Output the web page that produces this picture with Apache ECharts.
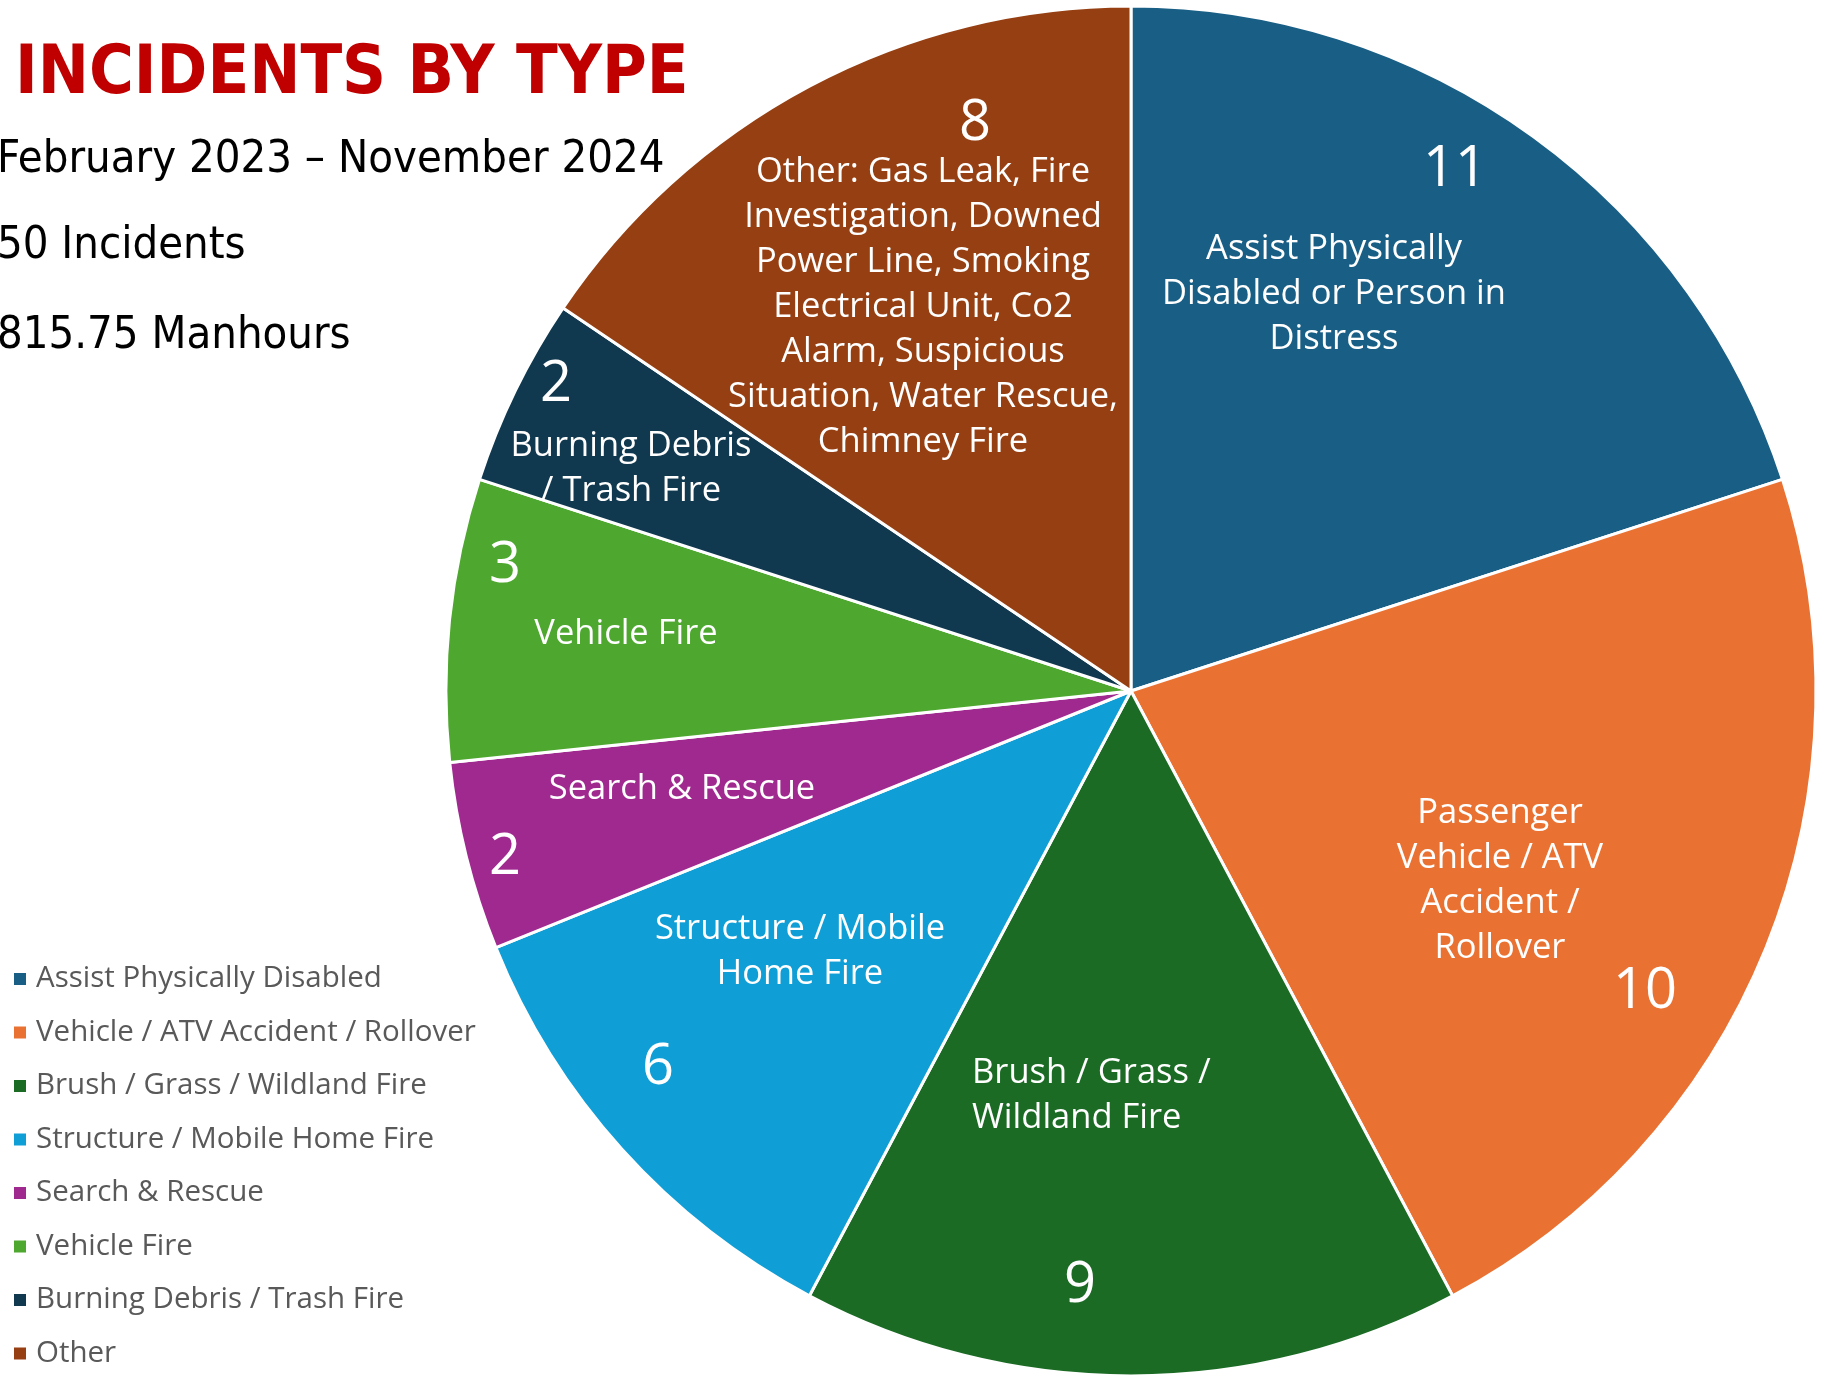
<!DOCTYPE html>
<html><head><meta charset="utf-8">
<script src="https://cdn.jsdelivr.net/npm/echarts@6/dist/echarts.min.js"></script>
<style>html,body{margin:0;padding:0;background:#fff}#c{width:1825px;height:1375px}</style>
</head><body><div id="c"></div>
<script>
// ---- data ----
const categories = [
  'Assist Physically Disabled',
  'Vehicle / ATV Accident / Rollover',
  'Brush / Grass / Wildland Fire',
  'Structure / Mobile Home Fire',
  'Search & Rescue',
  'Vehicle Fire',
  'Burning Debris / Trash Fire',
  'Other'
];
// slice sizes as drawn in the picture
const sliceValues = [9, 10, 7, 5, 2, 3, 2, 7];
// counts printed on the slices
const countLabels = ['11', '10', '9', '6', '2', '3', '2', '8'];
const sliceTexts = [
  'Assist Physically\nDisabled or Person in\nDistress',
  'Passenger\nVehicle / ATV\nAccident /\nRollover',
  'Brush / Grass /\nWildland Fire',
  'Structure / Mobile\nHome Fire',
  'Search & Rescue',
  'Vehicle Fire',
  'Burning Debris\n/ Trash Fire',
  'Other: Gas Leak, Fire\nInvestigation, Downed\nPower Line, Smoking\nElectrical Unit, Co2\nAlarm, Suspicious\nSituation, Water Rescue,\nChimney Fire'
];
const titleText = 'INCIDENTS BY TYPE';
const infoLines = ['February 2023 \u2013 November 2024', '50 Incidents', '815.75 Manhours'];

// ---- styling / layout ----
const colors = ['#195F85', '#E97233', '#1B6B25', '#0F9ED5', '#A0298F', '#4EA72E', '#10394F', '#963F12'];
const numberPos = [[1455,170],[1645,992],[1080,1286],[658,1068],[505,858],[505,566],[556,385],[975,124]];
const namePos = [[1334,294,'center'],[1500,881,'center'],[972,1096,'left'],[800,952,'center'],[682,789,'center'],[626,634,'center'],[631,469,'center'],[923,307,'center']];
const narrow = '"Liberation Sans Narrow", "DejaVu Sans Condensed", "Arial Narrow", sans-serif';
const body = '"Open Sans", Lato, sans-serif';

const chart = echarts.init(document.getElementById('c'), null, {renderer: 'canvas'});
const infoTops = [137, 223, 313];
chart.setOption({
  backgroundColor: '#ffffff',
  animation: false,
  color: colors,
  title: [
    {text: titleText, left: 15, top: 41, padding: 0, textStyle: {color: '#C00000', fontSize: 68, fontWeight: 'bold', fontFamily: narrow, lineHeight: 68}}
  ].concat(infoLines.map((t, i) => ({
    text: t, left: -3, top: infoTops[i], padding: 0,
    textStyle: {color: '#000000', fontSize: 45, fontWeight: 'normal', fontFamily: narrow, lineHeight: 46}
  }))),
  legend: {
    orient: 'vertical', left: 12, top: 963, height: 412, padding: 0,
    itemWidth: 14, itemHeight: 14, itemGap: 21.5, icon: 'rect',
    data: categories,
    textStyle: {color: '#595959', fontSize: 29.5, fontFamily: body, lineHeight: 32, padding: [0, 0, 0, 4]}
  },
  series: [
    {
      type: 'pie', center: [1131, 691], radius: 685, startAngle: 90, clockwise: true,
      avoidLabelOverlap: false, silent: true,
      itemStyle: {borderColor: '#ffffff', borderWidth: 3},
      label: {show: true, position: 'inside', color: '#ffffff', fontSize: 56, fontFamily: body,
        formatter: p => countLabels[p.dataIndex]},
      labelLine: {show: false},
      labelLayout: p => ({x: numberPos[p.dataIndex][0], y: numberPos[p.dataIndex][1], align: 'center', verticalAlign: 'middle'}),
      data: categories.map((n, i) => ({name: n, value: sliceValues[i]}))
    },
    {
      type: 'pie', center: [1131, 691], radius: 685, startAngle: 90, clockwise: true,
      avoidLabelOverlap: false, silent: true,
      itemStyle: {color: 'rgba(0,0,0,0)', borderWidth: 0},
      label: {show: true, position: 'inside', color: '#ffffff', fontSize: 34.5, lineHeight: 45, fontFamily: body,
        formatter: p => sliceTexts[p.dataIndex]},
      labelLine: {show: false},
      labelLayout: p => ({x: namePos[p.dataIndex][0], y: namePos[p.dataIndex][1], align: namePos[p.dataIndex][2], verticalAlign: 'middle'}),
      data: categories.map((n, i) => ({name: n, value: sliceValues[i]}))
    }
  ]
});
</script>
</body></html>
